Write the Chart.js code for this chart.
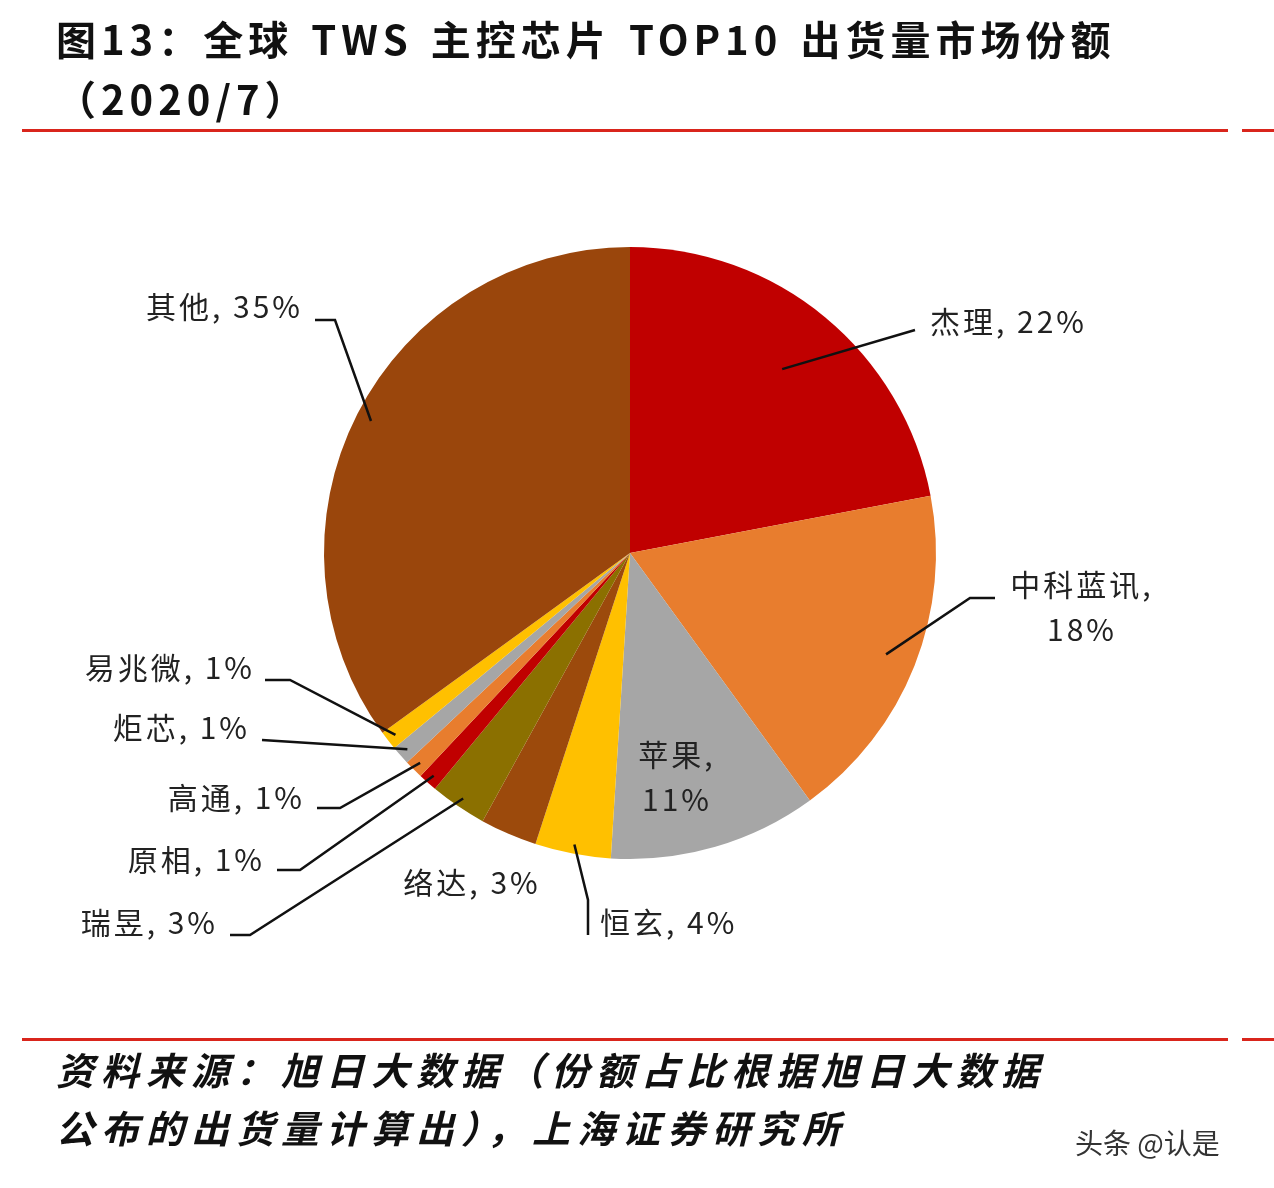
<!DOCTYPE html>
<html>
<head>
<meta charset="utf-8">
<script src="https://cdn.jsdelivr.net/npm/chart.js@4/dist/chart.umd.min.js"></script>
<style>
body { margin:0; background:#fff; font-family:"Noto Sans CJK SC", sans-serif; }
#wrap { position:relative; width:1274px; height:1188px; overflow:hidden; }
#c { position:absolute; left:0; top:0; }
.title { position:absolute; left:56px; top:8px; font-size:40px; font-weight:bold; color:#111; line-height:60px; letter-spacing:5px; word-spacing:4px; }
.rule { position:absolute; height:3px; background:#d9251c; }
.foot { position:absolute; left:56px; top:1040px; font-size:38px; font-weight:bold; font-style:italic; color:#111; line-height:58px; letter-spacing:7px; }
.wm { position:absolute; left:1075px; top:1122px; font-size:28px; color:#333; }
</style>
</head>
<body>
<div id="wrap">
<canvas id="c" width="1274" height="1188"></canvas>
<div class="title">图13：全球 TWS 主控芯片 TOP10 出货量市场份额<br>（2020/7）</div>
<div class="rule" style="left:22px;top:129px;width:1206px"></div>
<div class="rule" style="left:1242px;top:129px;width:32px"></div>
<div class="rule" style="left:22px;top:1038px;width:1206px"></div>
<div class="rule" style="left:1242px;top:1038px;width:32px"></div>
<div class="foot">资料来源：旭日大数据（份额占比根据旭日大数据<br>公布的出货量计算出），上海证券研究所</div>
<div class="wm">头条 @认是</div>
</div>
<script>
const categories = ["杰理", "中科蓝讯", "苹果", "恒玄", "络达", "瑞昱", "原相", "高通", "炬芯", "易兆微", "其他"];
const shares = [22, 18, 11, 4, 3, 3, 1, 1, 1, 1, 35];
const colors = ["#C00000", "#E87D2E", "#A6A6A6", "#FFC000", "#9C4A0C", "#8B7000", "#C00000", "#E87D2E", "#A6A6A6", "#FFC000", "#9A460C"];

// label layout: text lines, text anchor x,y, alignment, elbow points (leader line from slice)
const labelLayout = [
    { lines: ["杰理, 22%"], x: 930, y: 322, align: "left", pts: [[915, 330]], r: 0.78 },
    { lines: ["中科蓝讯,", "18%"], x: 1082, y: 585, align: "center", pts: [[970, 598], [995, 598]], r: 0.9 },
    { lines: ["苹果,", "11%"], x: 677, y: 755, align: "center", pts: null },
    { lines: ["恒玄, 4%"], x: 600, y: 923, align: "left", pts: [[588, 900], [588, 935]], r: 0.97 },
    { lines: ["络达, 3%"], x: 472, y: 883, align: "center", pts: null },
    { lines: ["瑞昱, 3%"], x: 218, y: 923, align: "right", pts: [[250, 935], [230, 935]], r: 0.97 },
    { lines: ["原相, 1%"], x: 265, y: 860, align: "right", pts: [[300, 870], [277, 870]], r: 0.97 },
    { lines: ["高通, 1%"], x: 305, y: 798, align: "right", pts: [[340, 808], [317, 808]], r: 0.97 },
    { lines: ["炬芯, 1%"], x: 250, y: 728, align: "right", pts: [[262, 740]], r: 0.97 },
    { lines: ["易兆微, 1%"], x: 255, y: 668, align: "right", pts: [[290, 680], [265, 680]], r: 0.97 },
    { lines: ["其他, 35%"], x: 303, y: 307, align: "right", pts: [[335, 320], [315, 320]], r: 0.95 }
];

const labelPlugin = {
    id: "labels",
    afterDatasetsDraw(chart) {
        const ctx = chart.ctx;
        const arcs = chart.getDatasetMeta(0).data;
        ctx.save();
        ctx.font = "30px 'Noto Sans CJK SC', sans-serif";
        ctx.letterSpacing = "3px";
        ctx.fillStyle = "#222";
        ctx.textBaseline = "middle";
        labelLayout.forEach(function (l, i) {
            const a = arcs[i];
            if (l.pts) {
                const mid = (a.startAngle + a.endAngle) / 2;
                ctx.beginPath();
                ctx.moveTo(a.x + Math.cos(mid) * a.outerRadius * l.r, a.y + Math.sin(mid) * a.outerRadius * l.r);
                l.pts.forEach(function (p) { ctx.lineTo(p[0], p[1]); });
                ctx.strokeStyle = "#111";
                ctx.lineWidth = 2.5;
                ctx.stroke();
            }
            ctx.textAlign = l.align;
            l.lines.forEach(function (t, j) {
                ctx.fillText(t, l.x, l.y + j * 45);
            });
        });
        ctx.restore();
    }
};

new Chart(document.getElementById("c"), {
    type: "pie",
    data: {
        labels: categories,
        datasets: [{ data: shares, backgroundColor: colors, borderWidth: 0 }]
    },
    options: {
        responsive: false,
        animation: false,
        layout: { padding: { left: 324, right: 338, top: 247, bottom: 329 } },
        plugins: { legend: { display: false }, tooltip: { enabled: false } }
    },
    plugins: [labelPlugin]
});
</script>
</body>
</html>
